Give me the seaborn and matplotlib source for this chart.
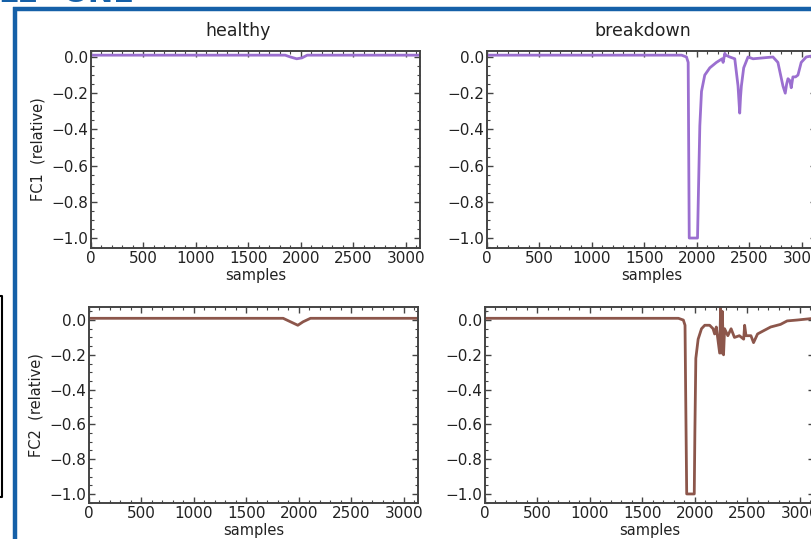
import matplotlib
matplotlib.use("Agg")
import matplotlib.pyplot as plt
import seaborn as sns
from matplotlib.ticker import MultipleLocator, AutoMinorLocator
from matplotlib.lines import Line2D

# ---- data ----
columns = ["healthy", "breakdown"]
row_labels = ["FC1  (relative)", "FC2  (relative)"]

healthy_fc1_x = [0, 1850, 1900, 1960, 2010, 2060, 3135]
healthy_fc1_y = [0.01, 0.01, 0.0, -0.01, -0.005, 0.01, 0.01]

healthy_fc2_x = [0, 1850, 1920, 1990, 2040, 2110, 3135]
healthy_fc2_y = [0.01, 0.01, -0.01, -0.03, -0.01, 0.01, 0.01]

breakdown_fc1_x = [0, 1854, 1901, 1917, 1927, 2006, 2015, 2028, 2044, 2075, 2123,
                   2186, 2240, 2250, 2260, 2266, 2275, 2313, 2361, 2392, 2408, 2416,
                   2424, 2446, 2487, 2535, 2725, 2772, 2820, 2842, 2855, 2868, 2885,
                   2899, 2915, 2940, 2963, 2994, 3042, 3135]
breakdown_fc1_y = [0.01, 0.01, 0.0, -0.03, -1.0, -1.0, -0.74, -0.38, -0.19, -0.10, -0.06,
                   -0.03, -0.01, -0.03, 0.0, 0.02, 0.01, 0.0, -0.01, -0.16, -0.31, -0.22,
                   -0.16, -0.06, 0.0, -0.01, 0.0, -0.03, -0.16, -0.20, -0.15, -0.12, -0.13,
                   -0.17, -0.11, -0.11, -0.10, -0.03, 0.0, 0.01]

breakdown_fc2_x = [0, 1843, 1890, 1906, 1912, 1922, 1994, 2000, 2009, 2031, 2063, 2094,
                   2141, 2173, 2188, 2204, 2236, 2245, 2251, 2261, 2273, 2283, 2314,
                   2345, 2377, 2424, 2465, 2474, 2487, 2534, 2559, 2597, 2659, 2722,
                   2816, 2879, 2973, 3135]
breakdown_fc2_y = [0.01, 0.01, 0.0, -0.03, -0.41, -1.0, -1.0, -0.64, -0.22, -0.11, -0.05, -0.03,
                   -0.03, -0.05, -0.08, -0.04, -0.19, 0.07, -0.19, 0.05, -0.20, -0.05, -0.09,
                   -0.05, -0.10, -0.09, -0.11, -0.03, -0.09, -0.09, -0.13, -0.08, -0.06, -0.04,
                   -0.025, -0.005, 0.0, 0.01]

series = {
    (0, 0): (healthy_fc1_x, healthy_fc1_y),
    (0, 1): (breakdown_fc1_x, breakdown_fc1_y),
    (1, 0): (healthy_fc2_x, healthy_fc2_y),
    (1, 1): (breakdown_fc2_x, breakdown_fc2_y),
}
row_colors = ["#9b6fd0", "#8c564b"]
row_ylims = [(-1.055, 0.033), (-1.052, 0.075)]

sns.set_style("ticks")
plt.rcParams["font.family"] = ["DejaVu Sans"]

W, H = 811, 539
fig = plt.figure(figsize=(W / 100, H / 100), dpi=100)

def fr(x0, y_top, x1, y_bot):
    return [x0 / W, 1 - y_bot / H, (x1 - x0) / W, (y_bot - y_top) / H]

rects = {
    (0, 0): fr(91, 51, 420, 248),
    (0, 1): fr(487, 51, 816, 248),
    (1, 0): fr(89, 307, 418, 503),
    (1, 1): fr(485, 307, 814, 503),
}

spine_col = "#444444"
for (r, c), rect in rects.items():
    ax = fig.add_axes(rect)
    xs, ys = series[(r, c)]
    sns.lineplot(x=xs, y=ys, ax=ax, color=row_colors[r], linewidth=2.0, sort=False)
    ax.set_xlim(0, 3135)
    ax.set_ylim(*row_ylims[r])
    ax.xaxis.set_major_locator(MultipleLocator(500))
    ax.yaxis.set_major_locator(MultipleLocator(0.2))
    ax.xaxis.set_minor_locator(AutoMinorLocator(5))
    ax.yaxis.set_minor_locator(AutoMinorLocator(4))
    ax.tick_params(which="both", direction="in", top=True, right=True,
                   color=spine_col, labelsize=11, labelcolor="#222222", pad=2)
    ax.tick_params(which="major", length=4, width=1)
    ax.tick_params(which="minor", length=2, width=0.8)
    for s in ax.spines.values():
        s.set_color(spine_col)
        s.set_linewidth(1.4)
    ax.set_xlabel("samples", fontsize=10.5, labelpad=1.5, color="#222222")
    if c == 0:
        ax.set_ylabel(row_labels[r], fontsize=10.5, labelpad=4, color="#222222")
    else:
        ax.set_ylabel("")

fig.text(238 / W, 1 - 31 / H, columns[0], ha="center", va="center", fontsize=12.5, color="#222222")
fig.text(643 / W, 1 - 31 / H, columns[1], ha="center", va="center", fontsize=12.5, color="#222222")

# slide decorations (frame, partial title, side box)
blue = "#1560a8"
fig.add_artist(Line2D([14.5 / W, 14.5 / W], [0, 1 - 7 / H], transform=fig.transFigure,
                      color=blue, linewidth=3.2, solid_capstyle="butt"))
fig.add_artist(Line2D([12.9 / W, 1], [1 - 9 / H, 1 - 9 / H], transform=fig.transFigure,
                      color=blue, linewidth=3.2, solid_capstyle="butt"))
fig.text(-2 / W, 1 - 2 / H, "LE", ha="left", va="baseline", fontsize=22,
         color=blue, fontweight="bold")
fig.text(62 / W, 1 - 2 / H, "ONE", ha="left", va="baseline", fontsize=22,
         color=blue, fontweight="bold")
fig.add_artist(Line2D([0, 2 / W, 2 / W, 0], [1 - 296 / H, 1 - 296 / H, 1 - 497 / H, 1 - 497 / H],
                      transform=fig.transFigure, color="black", linewidth=1.5))

fig.savefig("out.png", dpi=100)
